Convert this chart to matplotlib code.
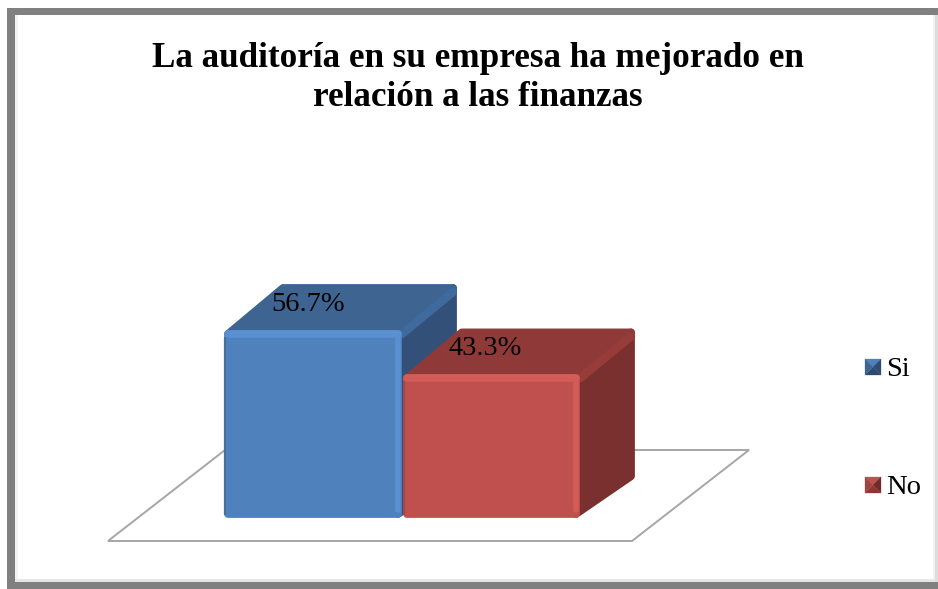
import matplotlib
matplotlib.use("Agg")
import matplotlib.pyplot as plt
from matplotlib.patches import Polygon, Rectangle
from matplotlib.transforms import Affine2D

# data
categories = ["Si", "No"]
values = [56.7, 43.3]
labels = ["56.7%", "43.3%"]
title = "La auditoría en su empresa ha mejorado en\nrelación a las finanzas"

# colours per bar: front, highlight, top, side, side highlight
colors = [
    {"front": "#4F81BD", "hi": "#5A8FD2", "edge": "#447099", "top": "#3E6492", "side": "#335079", "band": "#3F6A9E"},
    {"front": "#C0504D", "hi": "#D25C58", "edge": "#A84643", "top": "#8F3A38", "side": "#7A302E", "band": "#983C3A"},
]
swatches = [
    ["#4F81BD", "#2F4D73", "#2E4A6E", "#3E6492"],
    ["#C0504D", "#6E2B29", "#8A3735", "#A04441"],
]

W, H = 938, 589
PX_CAT = 178.0    # pixels per bar
PX_VAL = 3.316    # pixels per percent
X0 = 313.0        # pixel of first bar centre
Y0 = 518.0        # pixel of value 0
DX = 55 / PX_CAT  # 3d depth in data units
DY = 46 / PX_VAL

plt.rcParams["font.family"] = ["Liberation Serif", "DejaVu Serif"]

fig = plt.figure(figsize=(W / 100, H / 100), dpi=100, facecolor="white")
ax = fig.add_axes([0, 0, 1, 1])
ax.set_xlim((0 - X0) / PX_CAT, (W - X0) / PX_CAT)
ax.set_ylim((Y0 - H) / PX_VAL, Y0 / PX_VAL)
ax.axis("off")

# pixel coords for frame, floor and legend
px = Affine2D().scale(1 / W, -1 / H).translate(0, 1) + fig.transFigure

# frame
for xy, w, h, c in [((7, 8), 931, 7, "#808080"), ((7, 8), 8, 575, "#808080"),
                    ((7, 582), 931, 7, "#808080"), ((933, 15), 2, 567, "#F0F0F0"),
                    ((935, 15), 3, 567, "#DDDDDD"), ((15, 15), 3, 567, "#F4F4F4"),
                    ((15, 579), 920, 3, "#E6E6E6")]:
    ax.add_patch(Rectangle(xy, w, h, transform=px, fc=c, ec="none", zorder=1))

# floor
ax.add_patch(Polygon([(108, 541), (632, 541), (749, 450), (225, 450)], closed=True,
                     transform=px, fc="white", ec="#A6A6A6", lw=1.4, zorder=1))


def draw_bar(i, val, c):
    l, r = i - 0.5, i + 0.5
    if i == 1:
        l += 0.005
    pad_x, pad_y = 4 / PX_CAT, 4 / PX_VAL
    lw = 5.6
    kw = dict(joinstyle="round", lw=lw, zorder=3 + i)
    # side and top faces
    ax.add_patch(Polygon([(r - pad_x, pad_y), (r + DX - pad_x, DY * 0.82 + pad_y),
                          (r + DX - pad_x, val + DY - pad_y), (r - pad_x, val - pad_y)],
                         fc=c["side"], ec=c["side"], **kw))
    ax.add_patch(Polygon([(l + pad_x, val - pad_y), (l + DX + pad_x, val + DY - pad_y),
                          (r + DX - pad_x, val + DY - pad_y), (r - pad_x, val - pad_y)],
                         fc=c["top"], ec=c["top"], **kw))
    # lighter band on the upper diagonal edge
    ax.plot([r, r + DX - pad_x], [val - pad_y, val + DY - 2 * pad_y], color=c["band"],
            lw=6, solid_capstyle="round", zorder=3 + i)
    # front face
    ax.add_patch(Polygon([(l + pad_x, pad_y), (r - pad_x, pad_y),
                          (r - pad_x, val - pad_y), (l + pad_x, val - pad_y)],
                         fc=c["front"], ec=c["front"], **kw))
    # bevels
    ax.plot([l + pad_x, r - pad_x], [val - pad_y * 0.9] * 2, color=c["hi"], lw=5.5,
            solid_capstyle="round", zorder=3.1 + i)
    ax.plot([r - pad_x * 0.9] * 2, [val - pad_y, 2 * pad_y], color=c["hi"], lw=4,
            solid_capstyle="round", zorder=3.1 + i)
    ax.plot([l + pad_x * 0.3] * 2, [val - 2 * pad_y, pad_y], color=c["edge"], lw=1.6,
            solid_capstyle="round", zorder=3.1 + i)


for i, v in enumerate(values):
    draw_bar(i, v, colors[i])

# data labels
for i, (v, s) in enumerate(zip(values, labels)):
    ax.text(i - 0.03, v + DY * 0.56, s, ha="center", va="center", fontsize=20.5,
            color="black", zorder=6)

# title
ax.text(478, 78, title, transform=px, ha="center", va="center", fontsize=25.3,
        fontweight="bold", color="black", linespacing=1.24, zorder=6)

# legend
for name, faces, y in zip(categories, swatches, [359, 477]):
    x, s = 865, 16
    m = (x + s / 2, y + s / 2)
    corners = [(x, y), (x + s, y), (x + s, y + s), (x, y + s)]
    for k, fc in enumerate(faces):
        ax.add_patch(Polygon([corners[k], corners[(k + 1) % 4], m], closed=True, transform=px,
                             fc=fc, ec=fc, lw=0.2, zorder=6))
    ax.text(x + 21, y + 10, name, transform=px, ha="left", va="center", fontsize=20.5,
            color="black", zorder=6)

fig.savefig("out.png", dpi=100)
